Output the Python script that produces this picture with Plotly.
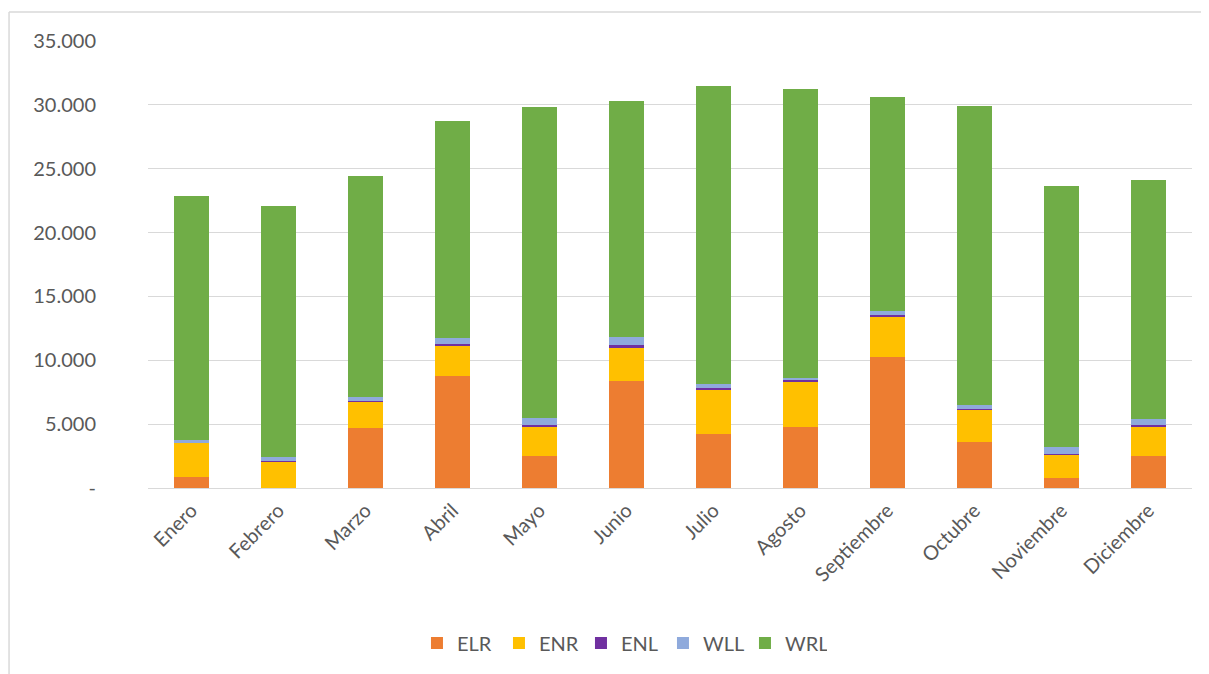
import plotly.graph_objects as go

months = ["Enero", "Febrero", "Marzo", "Abril", "Mayo", "Junio", "Julio",
          "Agosto", "Septiembre", "Octubre", "Noviembre", "Diciembre"]

ELR = [830, 0, 4670, 8800, 2500, 8350, 4200, 4800, 10250, 3630, 750, 2500]
ENR = [2700, 2100, 2100, 2380, 2330, 2650, 3450, 3550, 3200, 2500, 1860, 2300]
ENL = [30, 20, 20, 100, 130, 160, 160, 110, 100, 30, 20, 100]
WLL = [170, 280, 370, 480, 500, 680, 340, 190, 330, 370, 550, 530]
WRL = [19170, 19700, 17290, 17010, 24410, 18500, 23330, 22600, 16720, 23360, 20500, 18660]

series = [("ELR", ELR, "#ED7D31"), ("ENR", ENR, "#FFC000"), ("ENL", ENL, "#7030A0"),
          ("WLL", WLL, "#8FAADC"), ("WRL", WRL, "#70AD47")]

tick_vals = [0, 5000, 10000, 15000, 20000, 25000, 30000, 35000]
tick_text = ["-", "5.000", "10.000", "15.000", "20.000", "25.000", "30.000", "35.000"]

FONT = "Lato, 'Open Sans', sans-serif"
GRAY = "#595959"

fig = go.Figure()
for name, vals, col in series:
    fig.add_trace(go.Bar(x=months, y=vals, name=name, marker_color=col,
                         marker_line_width=0))

fig.update_layout(
    width=1209, height=674,
    barmode="stack", bargap=0.6,
    paper_bgcolor="white", plot_bgcolor="white",
    margin=dict(l=140, r=25, t=33, b=194, autoexpand=False),
    font=dict(family=FONT, size=20, color=GRAY),
    showlegend=True,
    legend=dict(orientation="h", x=0.454, y=-0.347, xanchor="center", yanchor="middle",
                font=dict(size=20, color=GRAY), entrywidth=37, entrywidthmode="pixels",
                traceorder="normal"),
    shapes=[
        dict(type="line", xref="paper", yref="paper", x0=-0.1331, x1=-0.1331,
             y0=-0.45, y1=1.0649, line=dict(color="#D9D9D9", width=1.5)),
        dict(type="line", xref="paper", yref="paper", x0=-0.1331, x1=1.1,
             y0=1.0649, y1=1.0649, line=dict(color="#D9D9D9", width=1.5)),
    ],
)
fig.update_yaxes(range=[0, 35000], tickvals=tick_vals, ticktext=tick_text,
                 showgrid=True, gridcolor="#D9D9D9", gridwidth=1.3,
                 zeroline=True, zerolinecolor="#D9D9D9", zerolinewidth=1.3,
                 showline=False, ticks="", ticklabelstandoff=51,
                 tickfont=dict(size=20, color=GRAY))
fig.update_xaxes(tickangle=-45, showline=False, ticks="", showgrid=False,
                 ticklabelstandoff=6, tickfont=dict(size=20, color=GRAY))

fig.write_html("out.html")
